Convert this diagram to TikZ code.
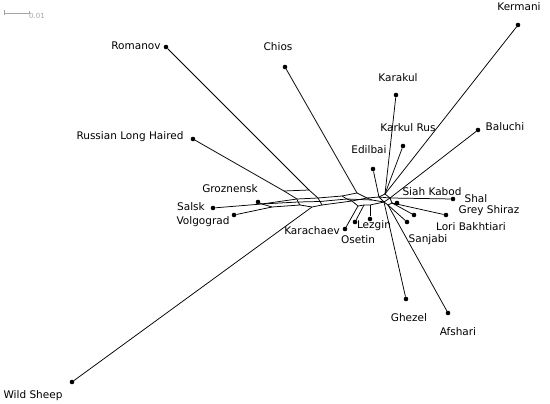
\documentclass[tikz,border=0pt]{standalone}
\usepackage{fontspec}
\setmainfont{DejaVu Sans}
\usetikzlibrary{positioning}

\begin{document}
\begin{tikzpicture}[x=1pt,y=-1pt,
  leaf/.style={circle,fill,inner sep=0pt,minimum size=4.6pt},
  lbl/.style={font=\fontsize{10.5}{12}\selectfont,inner sep=0pt},
  edge/.style={line width=0.75pt},
  scalebar/.style={gray!70,line width=0.5pt}]
  \useasboundingbox (0,0) rectangle (550,404);
  % scale bar
  \coordinate (barL) at (4,13);
  \coordinate (barR) at (29,13);
  \draw[scalebar] (barL) -- (barR);
  \draw[scalebar] ([yshift=-2.5pt]barL) -- ([yshift=2.5pt]barL);
  \draw[scalebar] ([yshift=-1.5pt]barR) -- ([yshift=1.5pt]barR);
  \node[gray!70,font=\fontsize{7}{8}\selectfont,anchor=west,inner sep=0pt] (barT) at (29,15.5) {0.01};
  % leaves
  \node[leaf] (kermani) at (518,25) {};
  \node[leaf] (romanov) at (166,47) {};
  \node[leaf] (chios) at (285,67) {};
  \node[leaf] (karakul) at (396,95) {};
  \node[leaf] (karkul) at (403,146) {};
  \node[leaf] (baluchi) at (478,130) {};
  \node[leaf] (edilbai) at (373,169) {};
  \node[leaf] (russian) at (193,139) {};
  \node[leaf] (grozn) at (258,202) {};
  \node[leaf] (salsk) at (213,208) {};
  \node[leaf] (volgo) at (234,215) {};
  \node[leaf] (karach) at (345,229) {};
  \node[leaf] (osetin) at (355,222) {};
  \node[leaf] (lezgin) at (370,219) {};
  \node[leaf] (siah) at (397,203) {};
  \node[leaf] (shal) at (453,199) {};
  \node[leaf] (grey) at (446,215) {};
  \node[leaf] (lori) at (414,215) {};
  \node[leaf] (sanjabi) at (407,222) {};
  \node[leaf] (ghezel) at (406,299) {};
  \node[leaf] (afshari) at (448,313) {};
  \node[leaf] (wild) at (72,382) {};
  % labels
  \node[lbl] (kermaniL) at (519,7) {Kermani};
  \node[lbl] (romanovL) at (136,46) {Romanov};
  \node[lbl] (chiosL) at (278,47) {Chios};
  \node[lbl] (karakulL) at (398,78) {Karakul};
  \node[lbl] (karkulL) at (408,128) {Karkul Rus};
  \node[lbl] (baluchiL) at (505,127) {Baluchi};
  \node[lbl] (edilbaiL) at (369,150) {Edilbai};
  \node[lbl] (russianL) at (130,137) {Russian Long Haired};
  \node[lbl] (groznL) at (230,189) {Groznensk};
  \node[lbl] (salskL) at (191,207) {Salsk};
  \node[lbl] (volgoL) at (203,222) {Volgograd};
  \node[lbl] (karachL) at (312,231) {Karachaev};
  \node[lbl] (osetinL) at (358,240) {Osetin};
  \node[lbl] (lezginL) at (374,226) {Lezgin};
  \node[lbl] (siahL) at (432,192) {Siah Kabod};
  \node[lbl] (shalL) at (476,199) {Shal};
  \node[lbl] (greyL) at (489,211) {Grey Shiraz};
  \node[lbl] (loriL) at (471,227) {Lori Bakhtiari};
  \node[lbl] (sanjabiL) at (428,240) {Sanjabi};
  \node[lbl] (ghezelL) at (409,318) {Ghezel};
  \node[lbl] (afshariL) at (458,332) {Afshari};
  \node[lbl] (wildL) at (33,396) {Wild Sheep};
  % inner points of the network
  \coordinate (n1) at (262,204);
  \coordinate (v1) at (272,207);
  \coordinate (t1) at (284,191);
  \coordinate (t2) at (309,190);
  \coordinate (u1) at (297,199);
  \coordinate (u2) at (318,198);
  \coordinate (u3) at (342,196);
  \coordinate (u4) at (357,193);
  \coordinate (m1) at (298,202);
  \coordinate (m2) at (320,201.5);
  \coordinate (m3) at (347,199);
  \coordinate (m4) at (372,200);
  \coordinate (l1) at (300,205);
  \coordinate (w1) at (312,207);
  \coordinate (l2) at (322,205);
  \coordinate (l3) at (352,201);
  \coordinate (q1) at (367,198);
  \coordinate (k1) at (358,206);
  \coordinate (o1) at (364,205);
  \coordinate (z1) at (370,205);
  \coordinate (h1) at (379,197);
  \coordinate (h2) at (385,194);
  \coordinate (h3) at (390,198);
  \coordinate (h4) at (384,202);
  \coordinate (r1) at (392,203);
  \coordinate (r2) at (388,205);
  % splits
  \draw[edge] (n1) -- (u1) -- (u2) -- (u3) -- (u4) -- (q1) -- (h1);
  \draw[edge] (n1) -- (m1) -- (m2) -- (m3) -- (m4) -- (h4);
  \draw[edge] (n1) -- (v1) -- (l1) -- (w1) -- (l2) -- (l3) -- (k1) -- (o1) -- (z1) -- (h4);
  \draw[edge] (t1) -- (t2) -- (u2) -- (m2) -- (l2);
  \draw[edge] (t1) -- (u1) -- (m1) -- (l1);
  \draw[edge] (u3) -- (m3) -- (l3) -- (q1) -- (m4);
  \draw[edge] (h1) -- (h2) -- (h3) -- (h4) -- cycle;
  \draw[edge] (h1) -- (h3);
  \draw[edge] (h3) -- (r1) -- (r2) -- (h4);
  % pendant edges
  \draw[edge] (salsk) -- (n1);
  \draw[edge] (grozn) -- (n1);
  \draw[edge] (volgo) -- (v1);
  \draw[edge] (russian) -- (t1);
  \draw[edge] (romanov) -- (t2);
  \draw[edge] (wild) -- (w1);
  \draw[edge] (chios) -- (u4);
  \draw[edge] (karach) -- (k1);
  \draw[edge] (osetin) -- (o1);
  \draw[edge] (lezgin) -- (z1);
  \draw[edge] (edilbai) -- (h1);
  \draw[edge] (karakul) -- (h2);
  \draw[edge] (karkul) -- (h2);
  \draw[edge] (kermani) -- (h2);
  \draw[edge] (baluchi) -- (h3);
  \draw[edge] (shal) -- (h3);
  \draw[edge] (siah) -- (r1);
  \draw[edge] (grey) -- (r1);
  \draw[edge] (lori) -- (r1);
  \draw[edge] (sanjabi) -- (r2);
  \draw[edge] (ghezel) -- (h4);
  \draw[edge] (afshari) -- (r2);
\end{tikzpicture}
\end{document}
